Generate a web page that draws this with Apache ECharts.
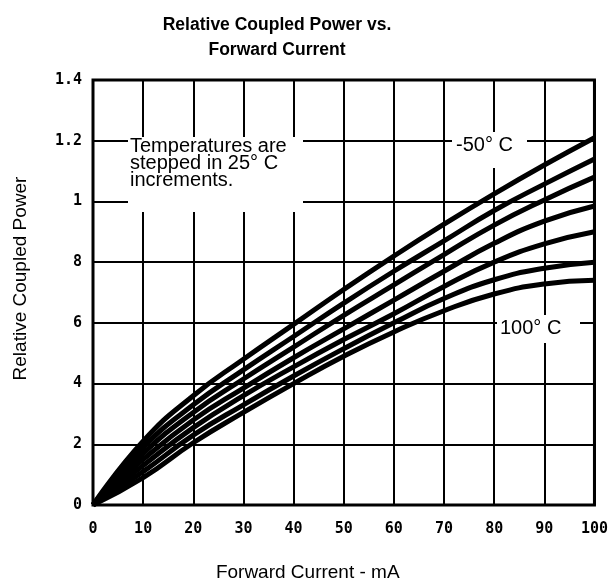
<!DOCTYPE html>
<html>
<head>
<meta charset="utf-8">
<script src="https://cdn.jsdelivr.net/npm/echarts@6/dist/echarts.min.js"></script>
<style>
  html, body { margin: 0; padding: 0; background: #fff; }
  #chart { width: 611px; height: 587px; }
</style>
</head>
<body>
<div id="chart"></div>
<script>
  // forward current (mA)
  const current = [0, 10, 20, 30, 40, 50, 60, 70, 80, 90, 100]
  // relative coupled power, one curve per temperature step (-50 C .. 100 C)
  const tMinus50 = [0, 0.21, 0.36, 0.48, 0.595, 0.71, 0.82, 0.925, 1.025, 1.12, 1.21]
  const tMinus25 = [0, 0.19, 0.33, 0.445, 0.555, 0.665, 0.77, 0.87, 0.97, 1.057, 1.14]
  const t0 = [0, 0.17, 0.305, 0.415, 0.52, 0.625, 0.725, 0.825, 0.922, 1.005, 1.08]
  const t25 = [0, 0.15, 0.28, 0.385, 0.485, 0.58, 0.675, 0.77, 0.862, 0.935, 0.985]
  const t50 = [0, 0.13, 0.255, 0.36, 0.455, 0.545, 0.63, 0.72, 0.8, 0.86, 0.9]
  const t75 = [0, 0.11, 0.23, 0.33, 0.425, 0.515, 0.6, 0.68, 0.742, 0.78, 0.8]
  const t100 = [0, 0.09, 0.205, 0.305, 0.4, 0.49, 0.57, 0.64, 0.695, 0.728, 0.74]
  // y tick labels as printed on the original
  const yTickLabels = ['0', '2', '4', '6', '8', '1', '1.2', '1.4']

  const curves = [tMinus50, tMinus25, t0, t25, t50, t75, t100]
  const tickFont = { fontFamily: 'DejaVu Sans Mono', fontWeight: 'bold', fontSize: 15, color: '#000' }

  const chart = echarts.init(document.getElementById('chart'))
  const option = {
    backgroundColor: '#fff',
    animation: false,
    title: {
      text: 'Relative Coupled Power vs.\nForward Current',
      left: 272,
      textAlign: 'center',
      top: 8,
      textStyle: {
        fontFamily: 'Liberation Sans',
        fontWeight: 'bold',
        fontSize: 17.5,
        lineHeight: 25,
        color: '#000'
      }
    },
    grid: {
      left: 93,
      right: 11,
      top: 80,
      bottom: 80,
      show: true,
      borderColor: '#000',
      borderWidth: 3
    },
    xAxis: {
      type: 'value',
      min: 0,
      max: 100,
      interval: 10,
      name: 'Forward Current - mA',
      nameLocation: 'middle',
      nameGap: 58,
      nameTextStyle: {
        fontFamily: 'Liberation Sans',
        fontSize: 19,
        color: '#000',
        padding: [0, 72, 0, 0]
      },
      axisLine: { show: false },
      axisTick: { show: false },
      axisLabel: Object.assign({ margin: 17 }, tickFont),
      splitLine: { show: true, lineStyle: { color: '#000', width: 2 } }
    },
    yAxis: {
      type: 'value',
      min: 0,
      max: 1.4,
      interval: 0.2,
      name: 'Relative Coupled Power',
      nameLocation: 'middle',
      nameGap: 63,
      nameTextStyle: {
        fontFamily: 'Liberation Sans',
        fontSize: 19,
        color: '#000',
        padding: [0, 0, 0, 28]
      },
      axisLine: { show: false },
      axisTick: { show: false },
      axisLabel: Object.assign({
        margin: 11,
        formatter: function (v) { return yTickLabels[Math.round(v / 0.2)] }
      }, tickFont),
      splitLine: { show: true, lineStyle: { color: '#000', width: 2 } }
    },
    series: curves.map(function (c) {
      return {
        type: 'line',
        data: current.map(function (x, i) { return [x, c[i]] }),
        smooth: 0.5,
        symbol: 'none',
        lineStyle: { color: '#000', width: 5 },
        z: 3
      }
    }),
    graphic: [
      // white boxes behind the annotations, breaking the grid like the original
      { type: 'rect', z: 50, shape: { x: 128, y: 137, width: 175, height: 75 }, style: { fill: '#fff' } },
      { type: 'text', z: 51, left: 130, top: 136,
        style: { text: 'Temperatures are\nstepped in 25° C\nincrements.', font: '20px "Liberation Sans"', lineHeight: 17, fill: '#000' } },
      { type: 'rect', z: 50, shape: { x: 452, y: 132, width: 75, height: 36 }, style: { fill: '#fff' } },
      { type: 'text', z: 51, left: 456, top: 135,
        style: { text: '-50° C', font: '20px "Liberation Sans"', fill: '#000' } },
      { type: 'rect', z: 50, shape: { x: 497, y: 315, width: 83, height: 28 }, style: { fill: '#fff' } },
      { type: 'text', z: 51, left: 500, top: 318,
        style: { text: '100° C', font: '20px "Liberation Sans"', fill: '#000' } }
    ]
  }
  chart.setOption(option)
</script>
</body>
</html>
